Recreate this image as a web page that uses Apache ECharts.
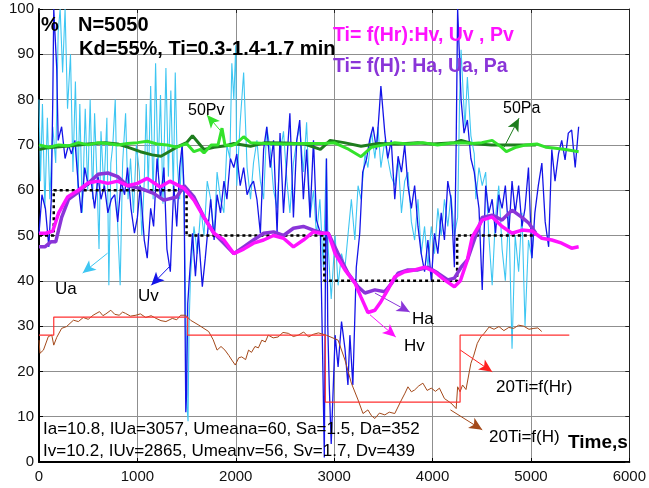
<!DOCTYPE html>
<html><head><meta charset="utf-8">
<script src="https://cdn.jsdelivr.net/npm/echarts@6/dist/echarts.min.js"></script>
<style>html,body{margin:0;padding:0;background:#fff}#c{width:649px;height:488px}</style>
</head><body><div id="c"></div>
<script>
// ---- data (time s, value %) ----
const xTicks = [0,1000,2000,3000,4000,5000,6000];
const yTicks = [0,10,20,30,40,50,60,70,80,90,100];

const Ua = [[0,80],[15,62],[35,79],[60,56],[85,76],[110,58],[140,74],[170,66],[195,95],[215,100],[240,86],[265,100],[290,78],[320,90],[345,64],[370,84],[395,60],[415,79],[440,55],[470,78],[495,60],[520,80],[545,58],[565,77],[590,62],[610,47],[630,73],[660,60],[690,76],[710,39],[730,66],[750,70],[775,80],[800,52],[825,39],[850,66],[880,77],[905,58],[930,67],[960,55],[990,70],[1020,64],[1045,50],[1070,62],[1090,79],[1110,60],[1135,83],[1160,58],[1185,88],[1210,64],[1235,81],[1260,57],[1290,87],[1315,63],[1340,82],[1365,60],[1385,86],[1405,66],[1430,58],[1455,70],[1475,55],[1490,36],[1505,12],[1515,9],[1525,30],[1540,41],[1575,52],[1610,46],[1645,56],[1677,50],[1710,62],[1745,58],[1780,50],[1810,64],[1845,58],[1879,55],[1910,70],[1940,67],[1960,88],[1980,80],[2000,92],[2010,61],[2045,75],[2080,86],[2115,65],[2150,58],[2180,66],[2215,71],[2250,62],[2283,58],[2315,74],[2350,69],[2384,60],[2420,56],[2450,68],[2485,73],[2520,62],[2550,55],[2586,66],[2620,71],[2650,74],[2687,64],[2720,75],[2755,54],[2790,60],[2820,50],[2855,58],[2890,43],[2920,67],[2940,47],[2970,36],[3010,50],[3040,39],[3075,46],[3110,43],[3140,50],[3175,58],[3210,49],[3243,61],[3273,58],[3313,68],[3343,65],[3380,73],[3414,67],[3445,74],[3475,65],[3515,71],[3545,67],[3580,63],[3616,61],[3650,67],[3684,55],[3717,62],[3750,64],[3785,53],[3818,49],[3852,58],[3885,46],[3919,52],[3953,43],[3987,52],[4020,46],[4054,56],[4088,50],[4121,58],[4155,52],[4188,59],[4222,50],[4255,54],[4275,80],[4290,91],[4310,82],[4330,74],[4354,85],[4390,72],[4424,68],[4440,58],[4472,65],[4505,61],[4540,64],[4572,50],[4606,39],[4640,54],[4673,61],[4707,47],[4740,40],[4775,55],[4808,25],[4840,50],[4875,42],[4909,55],[4940,30],[4975,49],[5010,45],[5030,52]];

const Uv = [[0,50.5],[30,59],[65,56],[100,47.5],[125,58],[140,80],[150,100],[165,100],[180,87],[195,71],[230,74],[265,67],[300,70],[330,68],[365,71],[400,61],[430,55],[465,65],[500,61],[530,62],[565,56],[600,63],[630,58],[665,61],[700,55],[735,58],[770,59],[800,53],[835,62],[870,59],[900,65],[935,56],[970,50.5],[1000,54],[1030,61],[1070,49],[1100,45],[1135,56],[1165,52],[1200,67],[1235,58],[1270,65],[1300,47],[1335,42],[1370,61],[1400,52],[1430,65],[1455,70],[1475,60],[1485,30],[1492,11],[1500,15],[1512,35],[1525,39.5],[1560,50.5],[1590,41],[1620,50.5],[1660,38.7],[1690,45],[1745,58],[1780,49],[1810,59],[1845,55],[1880,62],[1910,58],[1945,67],[1980,65],[2010,68],[2045,61],[2080,65],[2115,59],[2150,61],[2180,62],[2215,58],[2250,50.5],[2283,69],[2315,74],[2350,65],[2384,71],[2420,50.5],[2450,72.6],[2485,55],[2520,66.7],[2550,77],[2586,54],[2620,71],[2650,75.5],[2687,58],[2720,69],[2755,54],[2790,71],[2820,53.4],[2860,50.5],[2885,21],[2900,1],[2912,45],[2922,67],[2935,30],[2950,17],[2970,4],[3010,28],[3040,21],[3075,31],[3110,25],[3140,17],[3160,28],[3190,17],[3225,43],[3260,50.5],[3290,64],[3330,67],[3360,71],[3395,74],[3430,69],[3460,78],[3475,83],[3515,72.6],[3545,67],[3580,71],[3616,58],[3650,67.5],[3684,64],[3717,70],[3750,61],[3785,56],[3818,61],[3852,52],[3885,46],[3919,42],[3953,49],[3987,40],[4020,50.5],[4054,46],[4088,55],[4121,49],[4155,62],[4188,58],[4222,43],[4240,70],[4255,100],[4270,100],[4290,80],[4320,72.6],[4354,75.5],[4390,67],[4424,64],[4440,63.7],[4472,56],[4505,38],[4540,61],[4572,55],[4606,58],[4640,50.5],[4673,59],[4707,56],[4740,61],[4775,50.5],[4808,62],[4840,55],[4875,61],[4909,52],[4940,56],[4975,65],[5010,45],[5040,55],[5075,61],[5111,66],[5145,53],[5180,47.5],[5212,69],[5245,62],[5280,68],[5313,71],[5347,66.7],[5380,72.6],[5414,73.3],[5450,65],[5485,74]];

const Pv = [[0,70],[100,69.5],[200,70],[300,69.8],[400,70.5],[500,70],[600,70.5],[700,70.3],[800,70],[900,70.3],[1000,70.5],[1100,70.8],[1200,70.2],[1300,70],[1400,69.5],[1500,70.3],[1575,68.5],[1640,69],[1677,68.2],[1750,70],[1820,70],[1860,73.7],[1890,70],[1950,69.8],[2000,70.2],[2080,71.8],[2150,70.5],[2300,70.3],[2500,70.2],[2700,70.3],[2900,70.3],[3000,70.5],[3150,69],[3273,67.4],[3380,69.5],[3500,70],[3616,70.5],[3750,70.2],[3900,70.5],[4050,70],[4200,70.4],[4300,70.5],[4404,70.3],[4500,70.5],[4606,71],[4700,69.5],[4750,68.5],[4850,69.5],[4950,70],[5060,70.2],[5150,69.5],[5230,69.3],[5350,69],[5485,68.5]];

const Pa = [[0,69],[70,69.3],[150,69.5],[330,69.8],[500,70.2],[670,70.5],[800,70.2],[900,69.5],[1030,68.5],[1150,67.8],[1240,67.5],[1320,68.5],[1400,69.5],[1500,70.5],[1560,72],[1677,69],[1780,69.5],[1900,69.8],[1980,70.3],[2150,69.7],[2300,70.5],[2500,70.4],[2700,70.2],[2860,69],[2960,71],[3100,70.5],[3273,69.7],[3450,70.3],[3650,70.2],[3850,70.5],[4000,70.2],[4222,70.5],[4290,71],[4400,70.3],[4600,70],[4800,70],[5050,70]];

const Hv = [[0,50.5],[70,50.5],[140,51],[200,55],[290,58.5],[400,60],[500,61.6],[600,62],[700,61.5],[800,62],[900,61],[1000,61.5],[1100,62.6],[1230,60.7],[1330,62],[1420,61],[1475,60.4],[1575,57.8],[1677,54],[1778,50.5],[1879,49],[1980,46],[2080,47],[2180,48.3],[2283,49],[2384,50],[2485,49.4],[2586,47.5],[2687,49],[2788,50.8],[2860,50.5],[2940,50.5],[3010,46],[3110,42.4],[3212,39.5],[3273,36.4],[3343,33],[3414,33.5],[3475,35.4],[3545,38],[3616,40.9],[3717,42],[3818,42.4],[3919,43],[4020,42],[4121,40.2],[4222,38.7],[4283,40],[4354,44.6],[4404,49.7],[4505,53.4],[4606,54.1],[4707,52],[4808,50.5],[4909,51.2],[5010,51],[5111,49.4],[5212,49],[5313,48.3],[5414,47.2],[5485,47.5]];

const Ha = [[0,47.5],[60,47.5],[120,48.6],[170,48.6],[230,54],[300,58],[400,59.6],[500,61.5],[600,63.5],[700,63.8],[800,63],[900,61],[1030,60.4],[1165,59.3],[1270,57.8],[1400,58.5],[1475,61],[1575,58.5],[1677,54],[1778,50.5],[1879,48.3],[1980,46],[2080,47.5],[2180,49],[2283,50.5],[2384,50.8],[2485,50],[2586,51.6],[2687,52],[2788,51.2],[2889,50.5],[2940,50.5],[3040,46],[3140,41.7],[3243,38.7],[3313,37.3],[3414,38],[3515,37.6],[3586,39.5],[3650,41.7],[3750,42.4],[3852,42.4],[3953,43],[4054,41.7],[4155,40.2],[4222,40.6],[4290,43],[4354,44.6],[4424,49],[4505,54],[4606,54.5],[4707,53.4],[4808,55.6],[4909,54],[4980,52.7],[5050,50.5]];

const TiH = [[0,26.9],[10,24],[45,24.7],[95,27.7],[130,28],[150,25.8],[180,27.5],[230,29.5],[280,29.9],[350,31.3],[400,31],[450,31.9],[500,31.5],[550,32.4],[615,33.2],[650,32.3],[680,32.7],[730,33.5],[770,32.6],[815,32.4],[850,33.1],[880,32.8],[930,32.2],[985,32.4],[1030,32.7],[1085,31.9],[1140,32.3],[1190,31.7],[1240,31.2],[1290,31],[1355,31.7],[1400,31.4],[1440,32.4],[1490,32.4],[1540,31.3],[1625,30.2],[1725,28.8],[1770,27],[1810,24.7],[1850,25.5],[1890,24.7],[1930,23.5],[1960,22.5],[1995,21.4],[2030,23],[2060,23.2],[2100,22.6],[2130,24.7],[2160,24.2],[2195,25.5],[2230,25.2],[2265,26.9],[2300,26.5],[2330,28],[2380,27.4],[2430,27.6],[2480,28.6],[2535,28.4],[2585,27.7],[2635,28],[2690,28.7],[2740,27.6],[2790,28.2],[2840,28.5],[2920,28],[2940,28.4],[3040,26.9],[3110,22.5],[3175,17.4],[3243,13.7],[3293,10.7],[3343,11.5],[3380,10.2],[3414,9.6],[3460,10.8],[3515,10.4],[3560,11],[3616,10.7],[3684,13.7],[3720,15.2],[3750,16.6],[3785,15.5],[3818,15.9],[3860,16.8],[3902,17.4],[3945,15.8],[3987,16.3],[4030,15.6],[4070,16.3],[4121,14],[4188,13],[4240,11.8],[4255,16.6],[4280,15.5],[4305,17],[4340,16],[4390,21.8],[4420,23.6],[4455,26.2],[4490,27.6],[4525,28.4],[4575,29.8],[4625,29.3],[4675,29.9],[4725,29],[4775,29.7],[4825,29.5],[4875,30.2],[4925,30],[4980,29.3],[5030,29.5],[5070,29.6],[5110,28.8]];

const TiHr = [[0,28],[150,32],[1510,28],[2910,13.2],[4280,28],[5390,28]];
const SetPoint = [[0,50],[150,60],[1500,50],[2900,40],[4250,50],[5030,50]];

// annotation arrows: [fromX, fromY, toX, toY]
const arrowUa = [697,46.1,444,41.7];
const arrowUv = [1343,43.5,1141,39];
const arrowPv = [1858,72.8,1707,76.6];
const arrowPa = [4727,69.5,4879,75.9];
const arrowHa = [3414,37.3,3768,33.1];
const arrowHv = [3364,32.5,3626,27.6];
const arrowHr = [4283,24.7,4606,19.9];
const arrowH  = [4182,11.5,4505,7.1];

const FONT = '"Liberation Sans", Arial, sans-serif';

function arrow(a, color){
  return {
    silent: true, symbol: ['none','arrow'], symbolSize: [9,13],
    label: {show:false}, animation:false,
    lineStyle: {color: color, width: 1, type: 'solid'},
    data: [[{coord:[a[0],a[1]]},{coord:[a[2],a[3]]}]]
  };
}
function line(name, data, color, width, extra){
  return Object.assign({
    name, type:'line', data, showSymbol:false, symbol:'none', animation:false,
    lineStyle:{color, width}, itemStyle:{color}, z: 2, clip: true
  }, extra||{});
}
function txt(x,y,text,size,color,weight){
  return {type:'text', x:x, y:y, z:100, style:{text, fill:color, font:(weight||'normal')+' '+size+'px '+FONT, textAlign:'left', textVerticalAlign:'middle', align:'left', verticalAlign:'middle'}};
}

const chart = echarts.init(document.getElementById('c'), null, {renderer:'canvas'});
chart.setOption({
  animation:false,
  backgroundColor:'#fff',
  grid:{left:39, right:14, top:9, bottom:26},
  xAxis:[{
    type:'value', min:0, max:6000, interval:1000, position:'bottom',
    axisLine:{show:true, onZero:false, lineStyle:{color:'#000', width:2}},
    axisTick:{show:true, inside:true, length:4, lineStyle:{color:'#000'}},
    axisLabel:{color:'#111', fontSize:15, fontFamily:FONT, margin:7, formatter: v => String(v)},
    splitLine:{show:true, lineStyle:{color:'#8f8f8f', width:1}}
  },{
    type:'value', min:0, max:6000, interval:1000, position:'top',
    axisLine:{show:true, onZero:false, lineStyle:{color:'#222', width:1}},
    axisTick:{show:true, inside:true, length:4, lineStyle:{color:'#222'}},
    axisLabel:{show:false}, splitLine:{show:false}
  }],
  yAxis:[{
    type:'value', min:0, max:100, interval:10, position:'left',
    axisLine:{show:true, onZero:false, lineStyle:{color:'#000', width:2}},
    axisTick:{show:true, inside:true, length:4, lineStyle:{color:'#000'}},
    axisLabel:{color:'#111', fontSize:15, fontFamily:FONT, margin:5, formatter: v => String(v)},
    splitLine:{show:true, lineStyle:{color:'#8f8f8f', width:1}}
  },{
    type:'value', min:0, max:100, interval:10, position:'right',
    axisLine:{show:true, onZero:false, lineStyle:{color:'#222', width:1}},
    axisTick:{show:true, inside:true, length:4, lineStyle:{color:'#222'}},
    axisLabel:{show:false}, splitLine:{show:false}
  }],
  series:[
    line('Ua', Ua, '#3ec6f2', 1.1, {markLine: arrow(arrowUa,'#3ec6f2')}),
    line('Uv', Uv, '#1414e8', 1.3, {markLine: arrow(arrowUv,'#1414e8')}),
    line('20Ti=f(H)', TiH, '#a4491a', 1, {markLine: arrow(arrowH,'#a4491a')}),
    line('20Ti=f(Hr)', TiHr, '#ff3030', 1.2, {step:'end', markLine: arrow(arrowHr,'#ff2020')}),
    line('SP', SetPoint, '#000', 2.5, {step:'end', lineStyle:{color:'#000', width:2.5, type:[3,3]}, z:3}),
    line('Pa', Pa, '#1e7d1e', 3, {z:4, markLine: arrow(arrowPa,'#1e7d1e')}),
    line('Pv', Pv, '#33e22b', 3, {z:4, markLine: arrow(arrowPv,'#33e22b')}),
    line('Ha', Ha, '#8a35d8', 3.5, {z:5, markLine: arrow(arrowHa,'#8a35d8')}),
    line('Hv', Hv, '#ff12ff', 3.5, {z:5, markLine: arrow(arrowHv,'#ff12ff')})
  ],
  graphic:[
    txt(41,25,'%',20,'#000','bold'),
    txt(78,25,'N=5050',20,'#000','bold'),
    txt(79,49,'Kd=55%, Ti=0.3-1.4-1.7 min',20,'#000','bold'),
    txt(333,36,'Ti= f(Hr):Hv, Uv , Pv',19.5,'#ff12ff','bold'),
    txt(333,67,'Ti= f(H): Ha, Ua, Pa',19.5,'#8a35d8','bold'),
    txt(188,111,'50Pv',16,'#000'),
    txt(503,109,'50Pa',16,'#000'),
    txt(55,289,'Ua',17,'#000'),
    txt(138,296,'Uv',17,'#000'),
    txt(412,319,'Ha',17,'#000'),
    txt(404,346,'Hv',17,'#000'),
    txt(496,387,'20Ti=f(Hr)',17,'#000'),
    txt(489,437,'20Ti=f(H)',17,'#000'),
    txt(568,443,'Time,s',19,'#000','bold'),
    txt(43,429,'Ia=10.8, IUa=3057, Umeana=60, Sa=1.5, Da=352',17,'#000'),
    txt(43,451,'Iv=10.2, IUv=2865, Umeanv=56, Sv=1.7, Dv=439',17,'#000')
  ]
});
</script></body></html>
